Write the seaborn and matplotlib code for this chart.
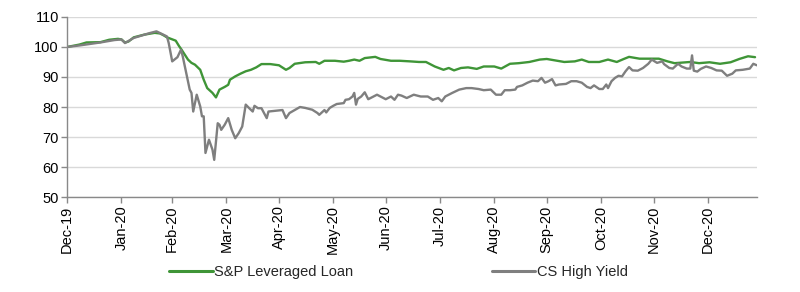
import matplotlib
matplotlib.use("Agg")
import matplotlib.pyplot as plt
import matplotlib.dates as mdates
import seaborn as sns
import pandas as pd
from matplotlib.lines import Line2D

# ---- data ----
loan_dates = [
    "2019-12-31", "2020-01-07", "2020-01-11", "2020-01-19", "2020-01-24", "2020-01-29", "2020-01-31",
    "2020-02-02", "2020-02-04", "2020-02-07", "2020-02-13", "2020-02-19", "2020-02-22", "2020-02-24",
    "2020-02-26", "2020-03-02", "2020-03-04", "2020-03-05", "2020-03-09", "2020-03-11", "2020-03-13",
    "2020-03-16", "2020-03-18", "2020-03-20", "2020-03-23", "2020-03-25", "2020-03-27", "2020-03-30",
    "2020-04-01", "2020-04-02", "2020-04-05", "2020-04-08", "2020-04-11", "2020-04-14", "2020-04-17",
    "2020-04-20", "2020-04-25", "2020-04-30", "2020-05-04", "2020-05-06", "2020-05-09", "2020-05-15",
    "2020-05-21", "2020-05-23", "2020-05-26", "2020-06-01", "2020-06-06", "2020-06-09", "2020-06-12",
    "2020-06-15", "2020-06-18", "2020-06-24", "2020-06-27", "2020-07-03", "2020-07-08", "2020-07-14",
    "2020-07-19", "2020-07-23", "2020-07-28", "2020-08-02", "2020-08-05", "2020-08-08", "2020-08-12",
    "2020-08-16", "2020-08-21", "2020-08-25", "2020-08-31", "2020-09-04", "2020-09-09", "2020-09-14",
    "2020-09-20", "2020-09-26", "2020-09-30", "2020-10-04", "2020-10-10", "2020-10-16", "2020-10-20",
    "2020-10-24", "2020-10-30", "2020-11-04", "2020-11-09", "2020-11-13", "2020-11-16", "2020-11-22",
    "2020-11-28", "2020-12-03", "2020-12-08", "2020-12-12", "2020-12-21", "2020-12-26", "2021-01-01",
    "2021-01-07", "2021-01-13", "2021-01-18", "2021-01-23", "2021-01-27",
]
loan_values = [
    100.0, 100.8, 101.5, 101.6, 102.4, 102.7, 102.5,
    101.5, 101.8, 103.2, 104.1, 104.7, 104.5, 103.9,
    103.2, 102.1, 100.2, 99.4, 95.8, 94.7, 94.1,
    92.4, 89.1, 86.3, 84.7, 83.2, 85.8, 86.7,
    87.4, 89.1, 90.2, 91.1, 91.9, 92.4, 93.2,
    94.3, 94.3, 93.9, 92.4, 93.0, 94.4, 94.9,
    95.0, 94.4, 95.4, 95.4, 95.1, 95.4, 95.8,
    95.4, 96.3, 96.7, 96.0, 95.4, 95.4, 95.2,
    95.0, 95.0, 93.5, 92.4, 93.0, 92.2, 93.0,
    93.2, 92.7, 93.5, 93.5, 92.8, 94.4, 94.6,
    95.0, 95.8, 96.0, 95.6, 95.0, 95.2, 95.8,
    95.0, 95.0, 95.8, 95.0, 96.0, 96.7, 96.1,
    96.1, 96.1, 95.2, 94.6, 95.0, 94.6, 94.9,
    94.4, 94.9, 96.0, 96.9, 96.6,
]

hy_dates = [
    "2019-12-31", "2020-01-07", "2020-01-19", "2020-01-27", "2020-01-31", "2020-02-02", "2020-02-07",
    "2020-02-16", "2020-02-20", "2020-02-26", "2020-02-27", "2020-02-29", "2020-03-03", "2020-03-05",
    "2020-03-06", "2020-03-08", "2020-03-10", "2020-03-11", "2020-03-12", "2020-03-14", "2020-03-16",
    "2020-03-17", "2020-03-18", "2020-03-19", "2020-03-21", "2020-03-23", "2020-03-24", "2020-03-26",
    "2020-03-27", "2020-03-28", "2020-03-30", "2020-04-01", "2020-04-03", "2020-04-05", "2020-04-07",
    "2020-04-09", "2020-04-11", "2020-04-13", "2020-04-15", "2020-04-16", "2020-04-18", "2020-04-20",
    "2020-04-21", "2020-04-23", "2020-04-24", "2020-04-29", "2020-05-02", "2020-05-04", "2020-05-06",
    "2020-05-09", "2020-05-12", "2020-05-15", "2020-05-19", "2020-05-22", "2020-05-23", "2020-05-26",
    "2020-05-27", "2020-05-29", "2020-05-31", "2020-06-02", "2020-06-06", "2020-06-07", "2020-06-09",
    "2020-06-11", "2020-06-12", "2020-06-13", "2020-06-14", "2020-06-16", "2020-06-18", "2020-06-20",
    "2020-06-23", "2020-06-25", "2020-06-27", "2020-06-30", "2020-07-03", "2020-07-05", "2020-07-07",
    "2020-07-09", "2020-07-12", "2020-07-16", "2020-07-20", "2020-07-24", "2020-07-27", "2020-07-30",
    "2020-08-01", "2020-08-03", "2020-08-07", "2020-08-11", "2020-08-15", "2020-08-18", "2020-08-22",
    "2020-08-25", "2020-08-29", "2020-09-01", "2020-09-04", "2020-09-06", "2020-09-09", "2020-09-12",
    "2020-09-13", "2020-09-16", "2020-09-19", "2020-09-22", "2020-09-25", "2020-09-27", "2020-09-29",
    "2020-10-01", "2020-10-03", "2020-10-05", "2020-10-07", "2020-10-11", "2020-10-14", "2020-10-17",
    "2020-10-20", "2020-10-23", "2020-10-25", "2020-10-27", "2020-10-30", "2020-11-01", "2020-11-03",
    "2020-11-04", "2020-11-06", "2020-11-08", "2020-11-10", "2020-11-12", "2020-11-14", "2020-11-16",
    "2020-11-18", "2020-11-21", "2020-11-24", "2020-11-27", "2020-11-29", "2020-12-02", "2020-12-05",
    "2020-12-06", "2020-12-09", "2020-12-11", "2020-12-14", "2020-12-16", "2020-12-19", "2020-12-21",
    "2020-12-22", "2020-12-23", "2020-12-25", "2020-12-27", "2020-12-30", "2021-01-02", "2021-01-05",
    "2021-01-08", "2021-01-11", "2021-01-14", "2021-01-16", "2021-01-20", "2021-01-24", "2021-01-26",
    "2021-01-28",
]
hy_values = [
    100.0, 100.5, 101.5, 102.3, 102.5, 101.3, 103.0,
    104.6, 105.2, 103.5, 101.3, 95.2, 96.6, 99.1,
    96.9, 91.3, 85.8, 84.7, 78.5, 84.1, 80.2,
    76.9, 76.9, 64.7, 69.1, 65.8, 62.4, 74.6,
    74.1, 72.4, 74.1, 76.3, 72.4, 69.6, 71.3,
    73.5, 80.8, 79.6, 78.5, 80.4, 79.6, 79.6,
    78.5, 76.3, 78.5, 78.8, 79.0, 76.3, 78.0,
    79.0, 80.0, 79.7, 79.1, 78.0, 77.4, 79.0,
    78.2, 79.7, 80.4, 81.0, 81.3, 82.4, 82.6,
    83.5, 84.7, 80.8, 82.7, 83.5, 84.9, 82.6,
    83.5, 84.1, 83.5, 82.6, 83.5, 82.4, 84.1,
    83.8, 83.0, 84.1, 83.5, 83.5, 82.4, 83.0,
    81.9, 83.5, 84.7, 85.8, 86.3, 86.3, 86.0,
    85.6, 85.8, 84.1, 84.1, 85.6, 85.6, 85.8,
    86.7, 87.2, 88.1, 88.8, 88.6, 89.7, 88.1,
    88.6, 89.3, 87.2, 87.5, 87.7, 88.6, 88.6,
    88.1, 86.7, 86.3, 87.2, 86.0, 86.0, 87.5,
    86.3, 88.6, 89.7, 90.4, 90.2, 91.9, 93.3,
    92.2, 92.1, 93.0, 94.4, 95.8, 94.7, 95.2,
    94.3, 93.0, 92.8, 94.4, 93.5, 92.8, 92.8,
    97.2, 92.1, 91.8, 92.7, 93.5, 93.0, 92.2,
    92.1, 90.4, 91.1, 92.2, 92.4, 92.8, 94.4,
    93.9,
]

series_names = ["S&P Leveraged Loan", "CS High Yield"]
series_colors = ["#3f9537", "#7f7f7f"]
y_ticks = [50, 60, 70, 80, 90, 100, 110]

df = pd.concat([
    pd.DataFrame({"date": pd.to_datetime(loan_dates), "value": loan_values, "series": series_names[0]}),
    pd.DataFrame({"date": pd.to_datetime(hy_dates), "value": hy_values, "series": series_names[1]}),
], ignore_index=True)

# ---- style ----
sns.set_style("white")
plt.rcParams["font.family"] = ["Liberation Sans Narrow", "Liberation Sans", "DejaVu Sans"]

fig = plt.figure(figsize=(8.0, 2.92), dpi=100)
ax = fig.add_axes([0.084, 0.325, 0.862, 0.617])

sns.lineplot(data=df, x="date", y="value", hue="series", hue_order=series_names,
             palette=series_colors, linewidth=1.7, estimator=None, sort=True,
             legend=False, ax=ax)

ax.set_ylim(50, 110)
ax.set_yticks(y_ticks)
ax.set_xlim(pd.Timestamp("2019-12-31"), pd.Timestamp("2021-01-28"))
month_ends = pd.date_range("2019-12-31", "2020-12-31", freq="ME")
ax.set_xticks(month_ends)
ax.xaxis.set_major_formatter(mdates.DateFormatter("%b-%y"))
for lab in ax.get_xticklabels():
    lab.set_rotation(90)

ax.grid(axis="y", color="#d9d9d9", linewidth=1.0)
ax.set_axisbelow(True)
for s in ["top", "right"]:
    ax.spines[s].set_visible(False)
for s in ["left", "bottom"]:
    ax.spines[s].set_color("#898989")
    ax.spines[s].set_linewidth(1.0)
ax.tick_params(axis="both", which="major", length=4, width=1.0, color="#898989",
               labelsize=10.5, labelcolor="#000000", pad=2, direction="out",
               bottom=True, left=True)
ax.set_xlabel("")
ax.set_ylabel("")

handles = [Line2D([0], [0], color=c, linewidth=2.2) for c in series_colors]
fig.legend(handles, series_names, loc="center", bbox_to_anchor=(0.498, 0.068), ncol=2,
           frameon=False, fontsize=10.5, handlelength=3.0, handletextpad=0.1,
           columnspacing=9.5)

fig.savefig("out.png", dpi=100)
